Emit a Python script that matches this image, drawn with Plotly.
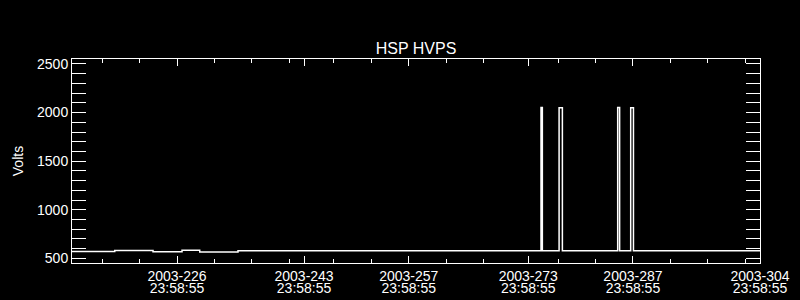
import plotly.graph_objects as go

# Data: day of year 2003 (fractional) and HVPS voltage
day = [211.95, 217.67, 222.79, 226.67, 229.04, 234.16,
       274.70, 274.88, 277.12, 277.56, 284.96, 285.22,
       286.70, 287.07, 304.0]
volts = [570, 582, 569, 583, 566, 578,
         2052, 578, 2050, 578, 2052, 578,
         2050, 578, 578]

x_major_days = [226, 243, 257, 273, 287, 304]
x_date_labels = ["2003-226", "2003-243", "2003-257",
                 "2003-273", "2003-287", "2003-304"]
x_time_labels = ["23:58:55"] * 6
x_minor_days = [216, 221, 231, 236, 241, 247, 252, 262, 267,
                277, 282, 292, 297, 302]
y_major = [500, 1000, 1500, 2000, 2500]

x_range = [211.95, 304.0]
y_range = [453, 2551]

FONT = "Liberation Sans"

fig = go.Figure()
fig.add_trace(go.Scatter(
    x=day, y=volts, mode="lines", line_shape="hv",
    line=dict(color="white", width=1.5), showlegend=False,
))
# invisible copy so the second (time-label) x axis is drawn
fig.add_trace(go.Scatter(
    x=day, y=volts, mode="lines", xaxis="x2", opacity=0,
    line=dict(width=0), showlegend=False, hoverinfo="skip",
))

fig.update_layout(
    width=800, height=300,
    paper_bgcolor="black", plot_bgcolor="black",
    margin=dict(l=72, r=40, t=59, b=37, autoexpand=False),
    font=dict(family=FONT, size=14, color="white"),
    title=dict(text="HSP HVPS", x=0.52, xref="container", xanchor="center",
               y=1 - 48.5 / 300, yref="container", yanchor="middle",
               font=dict(family=FONT, size=16, color="white")),
    xaxis=dict(
        range=x_range, showgrid=False, zeroline=False, automargin=False,
        showline=True, linecolor="white", linewidth=1, mirror="allticks",
        ticks="inside", ticklen=7, tickcolor="white", tickwidth=1,
        tickmode="array", tickvals=x_major_days, ticktext=x_date_labels,
        tickfont=dict(family=FONT, size=14, color="white"),
        minor=dict(tickmode="array", tickvals=x_minor_days, ticks="inside",
                   ticklen=4, tickcolor="white", tickwidth=1, showgrid=False),
    ),
    xaxis2=dict(
        overlaying="x", anchor="y", side="bottom", range=x_range,
        showgrid=False, zeroline=False, showline=False, ticks="",
        automargin=False, tickmode="array", tickvals=x_major_days,
        ticktext=x_time_labels, ticklabelstandoff=15,
        tickfont=dict(family=FONT, size=14, color="white"),
    ),
)

fig.update_yaxes(
    range=y_range, showgrid=False, zeroline=False, automargin=False,
    showline=True, linecolor="white", linewidth=1, mirror="allticks",
    ticks="inside", ticklen=14, tickcolor="white", tickwidth=1,
    tickmode="array", tickvals=y_major,
    tickfont=dict(family=FONT, size=14, color="white"),
    minor=dict(tick0=0, dtick=100, ticks="inside", ticklen=8,
               tickcolor="white", tickwidth=1, showgrid=False),
    title=dict(text="Volts", standoff=10,
               font=dict(family=FONT, size=14, color="white")),
)

fig.write_html("out.html")
